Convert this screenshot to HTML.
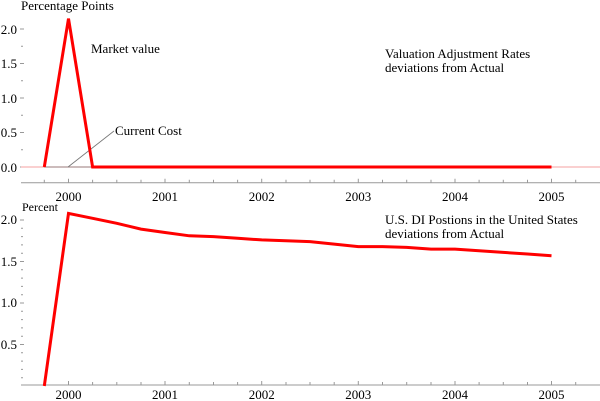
<!DOCTYPE html>
<html><head><style>
html,body{margin:0;padding:0;background:#fff;}
#w{position:relative;width:600px;height:401px;overflow:hidden;font-family:"Liberation Serif","Times New Roman",Times,serif;font-size:13px;color:#000;}
svg{position:absolute;left:0;top:0;display:block;}
.t{position:absolute;white-space:nowrap;line-height:1;}
.r{text-align:right;width:30px;}
.c{text-align:center;width:40px;}
</style></head><body><div id="w">
<svg width="600" height="401" viewBox="0 0 600 401">
<g stroke="#999" stroke-width="1">
<line x1="21" y1="182.7" x2="600" y2="182.7"/>
<line x1="21" y1="385" x2="600" y2="385"/>
<path d="M44.3 182.7v-3M68.5 182.7v-4M92.6 182.7v-3M116.8 182.7v-3M141 182.7v-3M165 182.7v-4M189.3 182.7v-3M213.5 182.7v-3M237.6 182.7v-3M261.7 182.7v-4M286 182.7v-3M310 182.7v-3M334.2 182.7v-3M358.3 182.7v-4M382.5 182.7v-3M406.7 182.7v-3M431 182.7v-3M455 182.7v-4M479.1 182.7v-3M503.3 182.7v-3M527.5 182.7v-3M551.5 182.7v-4M575.7 182.7v-3"/>
<path d="M44.3 385v-3M68.5 385v-4M92.6 385v-3M116.8 385v-3M141 385v-3M165 385v-4M189.3 385v-3M213.5 385v-3M237.6 385v-3M261.7 385v-4M286 385v-3M310 385v-3M334.2 385v-3M358.3 385v-4M382.5 385v-3M406.7 385v-3M431 385v-3M455 385v-4M479.1 385v-3M503.3 385v-3M527.5 385v-3M551.5 385v-4M575.7 385v-3"/>
<path d="M20 29h4M20 63.5h4M20 98h4M20 132.5h4M20 167h4M21 46.3h2M21 80.8h2M21 115.3h2M21 149.8h2"/>
<path d="M20 220h4M20 261.5h4M20 303h4M20 344.5h4M21 228.3h2M21 236.6h2M21 244.9h2M21 253.2h2M21 269.8h2M21 278.1h2M21 286.4h2M21 294.7h2M21 311.3h2M21 319.6h2M21 327.9h2M21 336.2h2M21 352.8h2M21 361.1h2M21 369.4h2M21 377.7h2"/>
</g>
<line x1="21" y1="167" x2="600" y2="167" stroke="#f4a0a0" stroke-width="1"/>
<line x1="44" y1="167" x2="92" y2="167" stroke="#9a7a7a" stroke-width="1"/>
<line x1="68" y1="167" x2="114" y2="131" stroke="#777" stroke-width="0.8"/>
<polyline fill="none" stroke="#f00" stroke-width="3" points="44.3,167 68.5,18.6 92.6,167 551.5,167"/>
<polyline fill="none" stroke="#f00" stroke-width="3" points="44.3,386 68.5,213.4 92.6,218.3 116.8,223.3 141,229.1 165,232.5 189.3,235.8 213.5,236.6 237.6,238.3 261.7,239.9 286,240.8 310,241.6 334.2,244.1 358.3,246.6 382.5,246.6 406.7,247.4 431,249.1 455,249.1 479.1,250.7 503.3,252.4 527.5,254 551.5,255.7"/>
</svg>
<div class="t" style="left:21px;top:-1px">Percentage Points</div>
<div class="t" style="left:91px;top:42px">Market value</div>
<div class="t" style="left:385px;top:47px">Valuation Adjustment Rates</div>
<div class="t" style="left:385px;top:61px">deviations from Actual</div>
<div class="t" style="left:115px;top:124px">Current Cost</div>
<div class="t" style="left:385px;top:213px">U.S. DI Postions in the United States</div>
<div class="t" style="left:385px;top:227px">deviations from Actual</div>
<div class="t" style="left:22px;top:201px;font-size:12px">Percent</div>
<div class="t r" style="left:-13px;top:23px">2.0</div>
<div class="t r" style="left:-13px;top:57px">1.5</div>
<div class="t r" style="left:-13px;top:92px">1.0</div>
<div class="t r" style="left:-13px;top:126px">0.5</div>
<div class="t r" style="left:-13px;top:161px">0.0</div>
<div class="t r" style="left:-13px;top:213px">2.0</div>
<div class="t r" style="left:-13px;top:255px">1.5</div>
<div class="t r" style="left:-13px;top:296px">1.0</div>
<div class="t r" style="left:-13px;top:338px">0.5</div>
<div class="t c" style="left:48.5px;top:190px">2000</div>
<div class="t c" style="left:145px;top:190px">2001</div>
<div class="t c" style="left:241.7px;top:190px">2002</div>
<div class="t c" style="left:338.3px;top:190px">2003</div>
<div class="t c" style="left:435px;top:190px">2004</div>
<div class="t c" style="left:531.5px;top:190px">2005</div>
<div class="t c" style="left:48.5px;top:388px">2000</div>
<div class="t c" style="left:145px;top:388px">2001</div>
<div class="t c" style="left:241.7px;top:388px">2002</div>
<div class="t c" style="left:338.3px;top:388px">2003</div>
<div class="t c" style="left:435px;top:388px">2004</div>
<div class="t c" style="left:531.5px;top:388px">2005</div>
</div></body></html>
